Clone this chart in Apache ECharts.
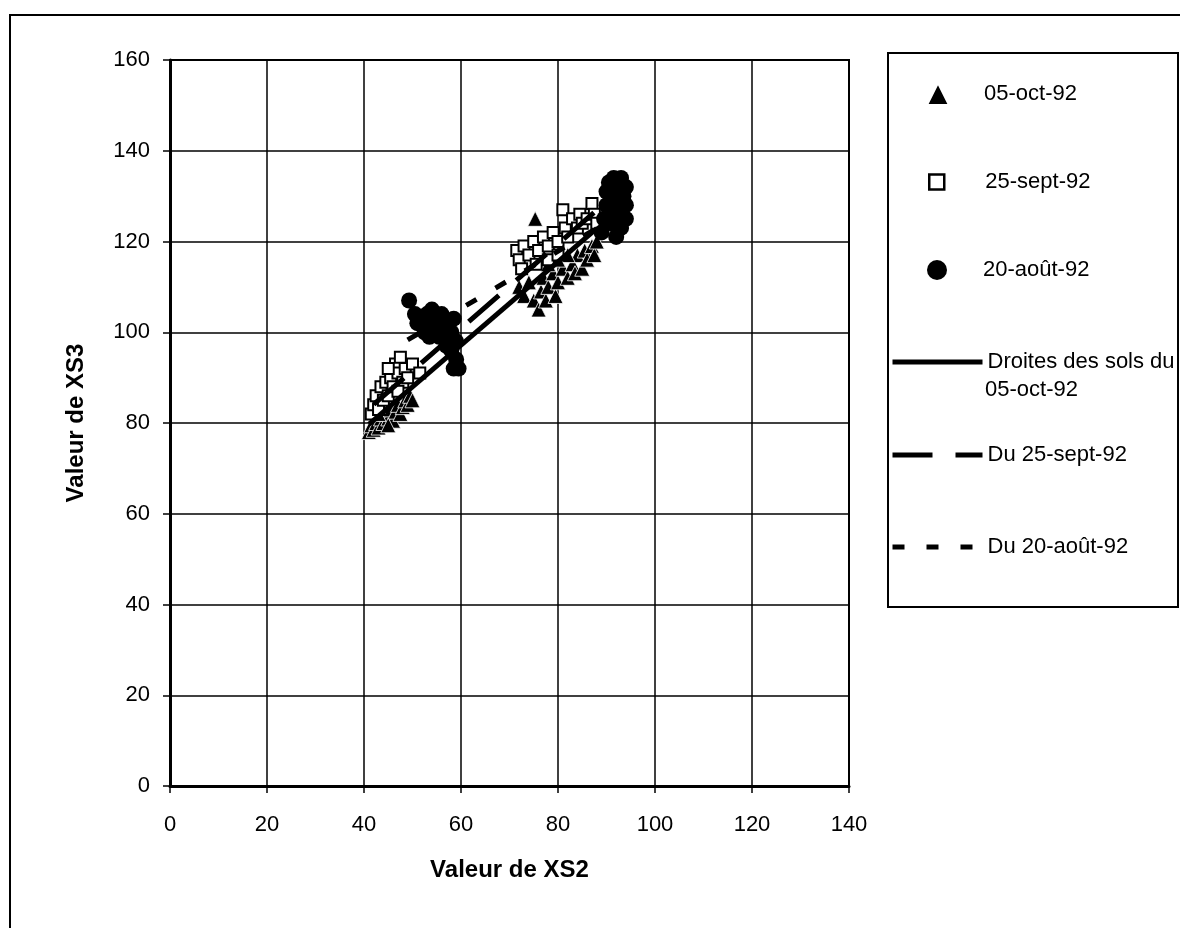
<!DOCTYPE html>
<html><head><meta charset="utf-8">
<script src="https://cdn.jsdelivr.net/npm/echarts@6/dist/echarts.min.js"></script>
<style>html,body{margin:0;padding:0;background:#fff}#c{width:1180px;height:928px}</style>
</head><body><div id="c"></div>
<script>
// ---- data ----
const seriesNames = ['05-oct-92', '25-sept-92', '20-août-92', 'Droites des sols du 05-oct-92', 'Du 25-sept-92', 'Du 20-août-92'];
const legendLine4 = ['Droites des sols du', '05-oct-92'];
const xAxisName = 'Valeur de XS2';
const yAxisName = 'Valeur de XS3';
const xRange = [0, 140, 20];
const yRange = [0, 160, 20];

const oct05 = [
  [41,78],[41.5,79.5],[42,78.5],[42.5,80],[43,79],[43.5,81],[44,80],[44.5,82],[45,81],[45.5,83],
  [46,80.5],[46.5,82.5],[47,84],[47.5,82],[48,83.5],[48.5,85],[49,84],[49.5,86],[50,85],[43,82],[45,79.5],
  [72,110],[73,108],[74,111],[75,107],[75.3,125],[76,105],[76.5,109],[77,112],[77.5,107],[78,110],
  [79,113],[79.5,108],[80,111],[81,114],[82,112],[83,115],[83.5,113],[84,117],[85,114],[85.5,118],
  [86,116],[87,119],[87.5,117],[88,120],[82,117],[80,116],[78,115]
];
const sept25 = [
  [41.5,82],[42,84],[42.5,86],[43,83],[43.5,88],[44,85],[44.5,89],[45,86],[45.5,90],[46,88],
  [46.5,93],[47,91],[47.5,94.5],[48,89],[48.5,92],[49,90],[50,93],[51.5,91],[45,92],[47,87],
  [71.5,118],[72,116],[72.5,114],[73,119],[74,117],[75,120],[75.5,115],[76,118],[77,121],[78,119],
  [79,122],[80,120],[81,127],[81.5,123],[82,121],[83,125],[84,123],[84.5,126],[85,124],[86,125],
  [87,128.4],[87.5,126],[88,124],[78,116],[80,117]
];
const aout20 = [
  [49.3,107],[50.5,104],[51,102],[52,103],[52.5,100],[53,104],[54,105],[54,101],[55,103],[55.5,99],
  [56,104],[56.5,101],[57,102],[57.5,98],[58,100],[58,96],[58.5,103],[59,94],[59,98],[59.5,92],
  [58.5,92],[57,97],[53.5,99],[55,100.5],
  [89,122],[89.5,125],[90,128],[90,131],[90.5,133],[91,124],[91,127],[91.5,130],[91.5,134],[92,121],
  [92,126],[92.5,129],[92.5,132],[93,123],[93,127],[93,134],[93.5,130],[94,125],[94,128],[94,132],
  [91,131.5],[92,123.5]
];
const lineOct05 = [[41,79.7],[88,122.9]];
const lineSept25 = [[42,84.1],[88,126.9]];
const lineAout20 = [[49,98.3],[94,126.7]];

// ---- chart ----
const FONT = "'Liberation Sans', Arial, sans-serif";
const chart = echarts.init(document.getElementById('c'), null, {renderer: 'canvas'});

const textBase = {fontSize: 22, color: '#000', fontFamily: FONT};
function markerLegend(name, top, left, size, gap, itemStyle) {
  const o = {
    orient: 'vertical', left: left, top: top, padding: 0, itemGap: 0,
    itemWidth: size, itemHeight: size, selectedMode: false, data: [name],
    formatter: function (n) { return '{g|}' + n; },
    textStyle: Object.assign({}, textBase, {rich: {g: {width: gap}}})
  };
  if (itemStyle) o.itemStyle = itemStyle;
  return o;
}
function lineLegend(name, top, type, formatter) {
  const o = {
    orient: 'vertical', left: 890, top: top, padding: 0, itemGap: 0,
    itemWidth: 90, itemHeight: 14, selectedMode: false, data: [name],
    itemStyle: {opacity: 0},
    lineStyle: {color: '#000', width: 5, type: type},
    textStyle: textBase
  };
  if (formatter) o.formatter = formatter;
  return o;
}

chart.setOption({
  animation: false,
  backgroundColor: '#fff',
  grid: {left: 170, right: 331, top: 60, bottom: 142, show: true, borderColor: '#000', borderWidth: 2, backgroundColor: 'transparent'},
  xAxis: {
    type: 'value', min: xRange[0], max: xRange[1], interval: xRange[2],
    name: xAxisName, nameLocation: 'middle', nameGap: 72,
    nameTextStyle: {fontSize: 24, fontWeight: 'bold', color: '#000', fontFamily: FONT},
    axisLine: {show: true, lineStyle: {color: '#000', width: 3}},
    axisTick: {show: true, length: 7, lineStyle: {color: '#000', width: 1.5}},
    axisLabel: {fontSize: 22, color: '#000', margin: 28, fontFamily: FONT},
    splitLine: {show: true, lineStyle: {color: '#000', width: 1.5}}
  },
  yAxis: {
    type: 'value', min: yRange[0], max: yRange[1], interval: yRange[2],
    name: yAxisName, nameLocation: 'middle', nameGap: 82,
    nameTextStyle: {fontSize: 24, fontWeight: 'bold', color: '#000', fontFamily: FONT},
    axisLine: {show: true, lineStyle: {color: '#000', width: 3}},
    axisTick: {show: true, length: 7, lineStyle: {color: '#000', width: 1.5}},
    axisLabel: {fontSize: 22, color: '#000', margin: 20, fontFamily: FONT},
    splitLine: {show: true, lineStyle: {color: '#000', width: 1.5}}
  },
  legend: [
    markerLegend(seriesNames[0], 82, 926, 22, 30),
    markerLegend(seriesNames[1], 171, 928, 15, 36, {color: '#fff', borderColor: '#000', borderWidth: 2.5}),
    markerLegend(seriesNames[2], 259, 927, 20, 31),
    lineLegend(seriesNames[3], 351, 'solid', function () { return legendLine4[0]; }),
    lineLegend(seriesNames[4], 444, [40, 23]),
    lineLegend(seriesNames[5], 536, [12, 22])
  ],
  graphic: [
    {type: 'polyline', silent: true, z: 100, shape: {points: [[10, 928], [10, 15], [1180, 15]]}, style: {stroke: '#000', lineWidth: 2, fill: null}},
    {type: 'rect', silent: true, z: 100, shape: {x: 888, y: 53, width: 290, height: 554}, style: {stroke: '#000', lineWidth: 2, fill: null}},
    {type: 'text', silent: true, z: 100, x: 985, y: 390, style: {text: legendLine4[1], fontSize: 22, fontFamily: FONT, fill: '#000', verticalAlign: 'middle', align: 'left'}}
  ],
  series: [
    {name: seriesNames[0], type: 'scatter', data: oct05, symbol: 'triangle', symbolSize: 15, z: 2,
      itemStyle: {color: '#000', borderColor: '#fff', borderWidth: 0.8, opacity: 1}},
    {name: seriesNames[1], type: 'scatter', data: sept25, symbol: 'rect', symbolSize: 11, z: 3,
      itemStyle: {color: '#fff', borderColor: '#000', borderWidth: 2, opacity: 1}},
    {name: seriesNames[3], type: 'line', data: lineOct05, symbol: 'none', z: 4,
      itemStyle: {color: '#000'}, lineStyle: {color: '#000', width: 5, type: 'solid'}},
    {name: seriesNames[4], type: 'line', data: lineSept25, symbol: 'none', z: 4,
      itemStyle: {color: '#000'}, lineStyle: {color: '#000', width: 5, type: [40, 23]}},
    {name: seriesNames[5], type: 'line', data: lineAout20, symbol: 'none', z: 4,
      itemStyle: {color: '#000'}, lineStyle: {color: '#000', width: 5, type: [12, 22]}},
    {name: seriesNames[2], type: 'scatter', data: aout20, symbol: 'circle', symbolSize: 16, z: 5,
      itemStyle: {color: '#000', opacity: 1}}
  ]
});
</script></body></html>
